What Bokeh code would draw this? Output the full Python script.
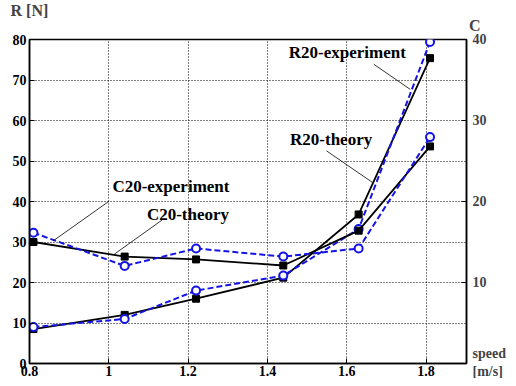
from bokeh.plotting import figure
from bokeh.models import Range1d, LinearAxis, FixedTicker, Label, ColumnDataSource, Title
from bokeh.embed import file_html
from bokeh.resources import INLINE

speed = [0.81, 1.04, 1.22, 1.44, 1.63, 1.81]
r_theory = [8.5, 12.0, 16.0, 21.2, 36.8, 75.4]
r_experiment = [9.0, 11.0, 18.0, 21.7, 33.2, 79.4]
c_theory = [15.0, 13.2, 12.85, 12.1, 16.4, 26.8]
c_experiment = [16.15, 12.05, 14.2, 13.2, 14.2, 27.95]

x_ticks = [0.8, 1.0, 1.2, 1.4, 1.6, 1.8]
x_tick_labels = ["0.8", "1", "1.2", "1.4", "1.6", "1.8"]
r_ticks = [0, 10, 20, 30, 40, 50, 60, 70, 80]
c_ticks = [0, 10, 20, 30, 40]
c_tick_labels = ["speed\n[m/s]", "10", "20", "30", "40"]

FONT = "Liberation Serif"
BLUE = "#1414e6"

p = figure(width=508, height=378, output_backend="svg", toolbar_location=None,
           x_range=Range1d(0.8, 1.902), y_range=Range1d(0, 80),
           min_border_left=29, min_border_right=36, min_border_top=39, min_border_bottom=15)
p.extra_y_ranges = {"c": Range1d(0, 40)}

p.title.text = "R [N]"
p.title.align = "left"
p.title.offset = -19
p.title.standoff = -18
p.title.text_font = FONT
p.title.text_font_style = "bold"
p.title.text_font_size = "16px"
p.add_layout(Title(text="C", align="right", offset=-14, standoff=11, text_font=FONT,
                   text_font_style="bold", text_font_size="16px"), "above")

p.outline_line_color = "black"
p.outline_line_width = 1.5
p.background_fill_color = "white"
p.border_fill_color = "white"

for ax in (p.xaxis[0], p.yaxis[0]):
    ax.major_label_text_font = FONT
    ax.major_label_text_font_style = "bold"
    ax.major_label_text_font_size = "14px"
    ax.major_label_text_color = "black"
    ax.axis_line_width = 1.5
    ax.major_tick_in = 5
    ax.major_tick_out = 0
    ax.minor_tick_line_color = None
    ax.major_label_standoff = 3
p.xaxis.major_label_standoff = 2

p.xaxis.ticker = FixedTicker(ticks=x_ticks)
p.xaxis.major_label_overrides = {t: l for t, l in zip(x_ticks, x_tick_labels)}
p.yaxis.ticker = FixedTicker(ticks=r_ticks)

cax = LinearAxis(y_range_name="c", ticker=FixedTicker(ticks=c_ticks))
cax.major_label_overrides = {t: l for t, l in zip(c_ticks, c_tick_labels)}
cax.major_label_text_font = FONT
cax.major_label_text_font_style = "bold"
cax.major_label_text_font_size = "14px"
cax.axis_line_width = 1.5
cax.major_tick_in = 5
cax.major_tick_out = 0
cax.minor_tick_line_color = None
cax.major_label_standoff = 6
p.add_layout(cax, "right")

p.grid.grid_line_color = "black"
p.grid.grid_line_dash = "1 2"
p.grid.grid_line_width = 1
p.xgrid.ticker = FixedTicker(ticks=x_ticks)
p.ygrid.ticker = FixedTicker(ticks=r_ticks)

# R curves (left axis)
p.line(speed, r_theory, line_color="black", line_width=1.8)
p.scatter(speed, r_theory, marker="square", size=7, fill_color="black", line_color="black")
p.line(speed, r_experiment, line_color=BLUE, line_width=2, line_dash="6 3")
p.scatter(speed, r_experiment, marker="circle", size=8, fill_color="white",
          line_color=BLUE, line_width=2)

# C curves (right axis)
p.line(speed, c_theory, line_color="black", line_width=1.8, y_range_name="c")
p.scatter(speed, c_theory, marker="square", size=7, fill_color="black", line_color="black",
          y_range_name="c")
p.line(speed, c_experiment, line_color=BLUE, line_width=2, line_dash="6 3", y_range_name="c")
p.scatter(speed, c_experiment, marker="circle", size=8, fill_color="white",
          line_color=BLUE, line_width=2, y_range_name="c")

def lab(x, y, t, size="17px", align="left", baseline="middle"):
    p.add_layout(Label(x=x, y=y, text=t, text_font=FONT, text_font_style="bold",
                       text_font_size=size, text_align=align, text_baseline=baseline,
                       text_color="black"))

lab(1.454, 76.8, "R20-experiment")
lab(1.457, 55.4, "R20-theory")
lab(1.009, 43.8, "C20-experiment")
lab(1.096, 36.9, "C20-theory")

lead = ColumnDataSource(dict(
    x0=[1.668, 1.549, 1.001, 1.134],
    y0=[73.9, 52.5, 40.1, 35.4],
    x1=[1.760, 1.665, 0.860, 1.014],
    y1=[67.7, 44.7, 30.3, 27.0],
))
p.segment("x0", "y0", "x1", "y1", source=lead, line_color="black", line_width=0.8)

open("out.html", "w").write(file_html(p, INLINE))
